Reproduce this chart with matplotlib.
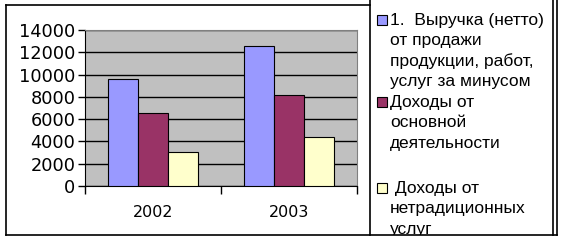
import matplotlib
matplotlib.use('Agg')
import matplotlib.pyplot as plt
from matplotlib.patches import Rectangle
from matplotlib.transforms import Bbox, TransformedBbox

# data
years = ['2002', '2003']
revenue = [9620, 12600]
main_income = [6580, 8190]
other_income = [3010, 4380]

series = [revenue, main_income, other_income]
colors = ['#9999FF', '#993366', '#FFFFCC']
legend_lines = [
    ['1.  Выручка (нетто)', 'от продажи', 'продукции, работ,', 'услуг за минусом'],
    ['Доходы от', 'основной', 'деятельности'],
    [' Доходы от', 'нетрадиционных', 'услуг'],
]
yticks = list(range(0, 14001, 2000))

W, H = 561, 240
fig = plt.figure(figsize=(W / 100, H / 100), dpi=100)

# background overlay in pixel coords
bg = fig.add_axes([0, 0, 1, 1], zorder=0)
bg.set_xlim(0, W)
bg.set_ylim(H, 0)
bg.axis('off')

# chart border
bg.plot([6, 370], [5, 5], color='black', lw=1.2)
bg.plot([6, 6], [5, 235], color='black', lw=1.2)
bg.plot([6, 557], [235, 235], color='black', lw=1.2)
bg.plot([557, 557], [0, 235], color='black', lw=1.2)
# legend box
bg.plot([370, 370], [0, 235], color='black', lw=1.2)
bg.plot([553, 553], [0, 235], color='black', lw=1.2)

# plot area
l, r, t, b = 85, 357, 30, 186
ax = fig.add_axes([l / W, (H - b) / H, (r - l) / W, (b - t) / H], zorder=1)
ax.set_facecolor('#C0C0C0')
x = [1, 2]
bw = 0.221
for i, (vals, c) in enumerate(zip(series, colors)):
    ax.bar([xi + (i - 1) * bw for xi in x], vals, width=bw, color=c,
           edgecolor='black', linewidth=0.8, zorder=3)

ax.set_xlim(0.5, 2.5)
ax.set_ylim(0, 14000)
ax.set_yticks(yticks)
ax.set_yticklabels([str(v) for v in yticks], fontsize=12.8)
ax.yaxis.grid(True, color='black', linewidth=1)
ax.set_axisbelow(True)
ax.tick_params(axis='y', direction='out', length=5, width=1, pad=2)
ax.set_xticks([0.5, 1.5, 2.5])
ax.set_xticklabels([])
ax.tick_params(axis='x', direction='out', length=6, width=1)
for xi, yr in zip(x, years):
    ax.text(xi, -0.17, yr, transform=ax.get_xaxis_transform(),
            ha='center', va='center', fontsize=11.5)
for s in ['top', 'right']:
    ax.spines[s].set_color('#808080')
for s in ['left', 'bottom']:
    ax.spines[s].set_color('black')

# legend
clip = TransformedBbox(Bbox([[370, 0], [553, 235]]), bg.transData)
key_y = [20, 102, 188]
for c, lines, ky in zip(colors, legend_lines, key_y):
    bg.add_patch(Rectangle((377, ky - 5), 10, 10, facecolor=c,
                           edgecolor='black', lw=0.8))
    for j, line in enumerate(lines):
        tx = bg.text(390, ky + j * 20.6, line, fontsize=12.5,
                     family='Liberation Sans', ha='left', va='center')
        tx.set_clip_box(clip)
        tx.set_clip_on(True)

fig.savefig('out.png', dpi=100)
